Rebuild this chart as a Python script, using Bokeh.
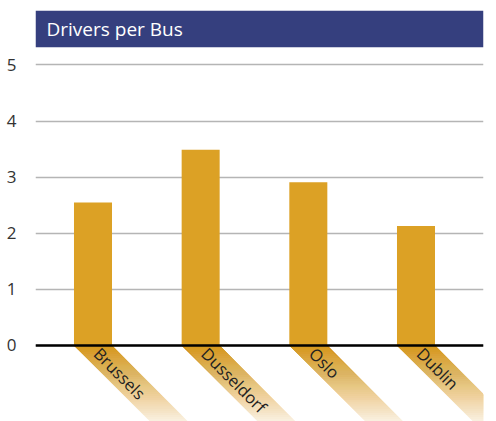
import math
from bokeh.plotting import figure
from bokeh.models import Range1d, FixedTicker, Span, ColumnDataSource
from bokeh.core.properties import value
from bokeh.embed import file_html
from bokeh.resources import INLINE

# ---- data ----
categories = ["Brussels", "Dusseldorf", "Oslo", "Dublin"]
drivers_per_bus = [2.55, 3.49, 2.91, 2.13]
y_ticks = [0, 1, 2, 3, 4, 5]
title_text = "Drivers per Bus"

# ---- layout ----
W, H = 488, 421
BL, BR, BT, BB = 35, 5, 10, 0
frame_w = W - BL - BR
frame_h = H - BT - BB
x0, x1 = -0.534, 3.627
y0, y1 = -1.355, 5.971
px_x = frame_w / (x1 - x0)
px_y = frame_h / (y1 - y0)

GOLD = "#dca125"
NAVY = "#353f7e"
FONT = "Open Sans"
bar_w = 0.353

p = figure(width=W, height=H, output_backend="svg", toolbar_location=None,
           x_range=Range1d(x0, x1), y_range=Range1d(y0, y1),
           x_axis_location=None, min_border_left=BL, min_border_right=BR,
           min_border_top=BT, min_border_bottom=BB)
p.outline_line_color = None
p.xgrid.grid_line_color = None
p.ygrid.ticker = FixedTicker(ticks=y_ticks)
p.ygrid.grid_line_color = "#b5b5b5"
p.ygrid.grid_line_width = 1.5

ax = p.yaxis[0]
ax.ticker = FixedTicker(ticks=y_ticks)
ax.axis_line_color = None
ax.major_tick_line_color = None
ax.minor_tick_line_color = None
ax.major_label_text_font = FONT
ax.major_label_text_font_size = "17px"
ax.major_label_text_color = "#333333"
ax.major_label_standoff = 13

# ---- diagonal fading bands under each bar ----
xs_idx = list(range(len(categories)))
L = (0 - y0) * px_y + 4  # band length in px (to frame bottom)
N = 38
depths = [L * (k + 1) / N for k in range(N)]
fade = 88.0
def opac(t):
    return max(0.0, 1.0 - t / fade)
O = [opac(L * (k + 0.5) / N) for k in range(N)] + [0.0]
alphas = []
for k in range(N):
    a = 1 - (1 - O[k]) / (1 - O[k + 1]) if O[k + 1] < 1 else 1.0
    alphas.append(max(0.0, min(1.0, a)))
bxs, bys, bal = [], [], []
for c in xs_idx:
    for k in range(N):
        d = depths[k]
        left = c - bar_w / 2
        right = c + bar_w / 2
        bxs.append([left, right, right + d / px_x, left + d / px_x])
        bys.append([0, 0, -d / px_y, -d / px_y])
        bal.append(alphas[k])
p.patches(bxs, bys, fill_color=GOLD, fill_alpha=bal, line_color=None)

# ---- bars ----
src = ColumnDataSource(dict(x=xs_idx, top=drivers_per_bus, name=categories))
p.vbar(x="x", top="top", width=bar_w, source=src, fill_color=GOLD, line_color=None)

# ---- baseline ----
p.add_layout(Span(location=0, dimension="width", line_color="black", line_width=2.5))

# ---- category labels along bands ----
p.text(x=xs_idx, y=[0] * len(categories), text=categories, angle=-math.pi / 4,
       x_offset=4, y_offset=5, text_align="left", text_baseline="middle",
       text_font=value(FONT), text_font_size="16.5px", text_color="#222222")

# ---- title bar ----
tb_h = 36.7
p.quad(left=[x0], right=[x1], top=[y1], bottom=[y1 - tb_h / px_y],
       fill_color=NAVY, line_color=None)
p.text(x=[x0], y=[y1 - tb_h / 2 / px_y], text=[title_text], x_offset=11,
       text_align="left", text_baseline="middle", text_font=value(FONT),
       text_font_size="19px", text_color="white")

open("out.html", "w").write(file_html(p, INLINE))
